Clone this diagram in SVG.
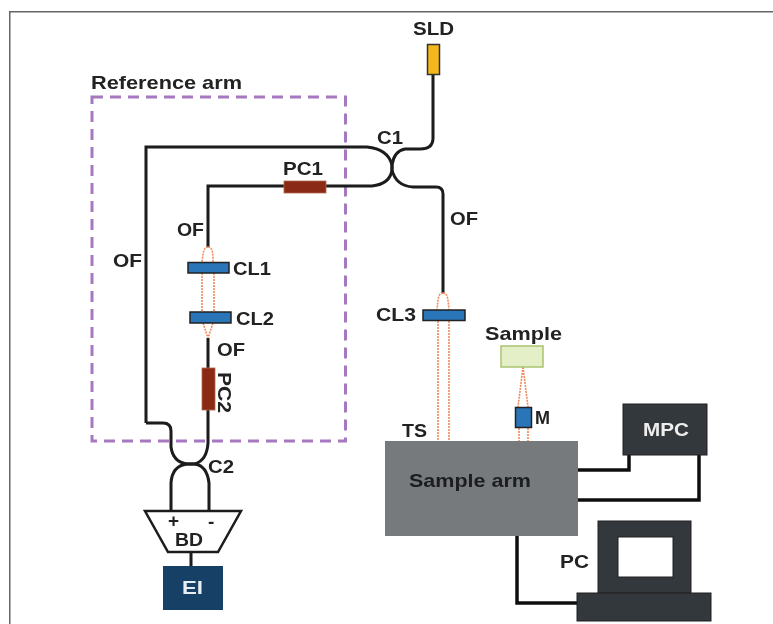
<svg xmlns="http://www.w3.org/2000/svg" width="773" height="624" viewBox="0 0 773 624">
<defs><filter id="soft" x="0" y="0" width="100%" height="100%" filterUnits="objectBoundingBox"><feGaussianBlur stdDeviation="0.45"/></filter></defs>
<style>
text{font-family:"Liberation Sans",Arial,sans-serif;font-weight:bold;font-size:19px;fill:#222}
.f{fill:none;stroke:#1c1c1c;stroke-width:3}
.c{fill:none;stroke:#111;stroke-width:3.500}
.b{fill:none;stroke:#f08a5d;stroke-width:1.600;stroke-dasharray:2 1}
.lens{fill:#2a74b8;stroke:#222;stroke-width:1.500}
.pc{fill:#8a2a14;stroke:#b06a50;stroke-width:.8}
.dk{fill:#33373a;stroke:#222;stroke-width:1}
</style>
<rect width="773" height="624" fill="#fff"/>
<g filter="url(#soft)">
<path d="M9 624V11H773" fill="none" stroke="#666" stroke-width="3"/>
<rect x="92" y="97" width="253.500" height="344" fill="none" stroke="#a678c0" stroke-width="3" stroke-dasharray="11 7"/>
<g id="connectors">
<path class="f" d="M433 75V138Q433 149 420 149H405Q394 151 392 165V170Q390 184 372 186H326"/>
<path class="f" d="M284 186H208V247"/>
<path class="f" d="M146 423V147H367Q388 149 392 165V170Q396 186 413 187H436Q443 187 443 194V293"/>
<path class="f" d="M208 338V368"/>
<path class="f" d="M146 423H163Q171 423 171 431V447Q173 462 187 464H195Q207 460 208 443V410"/>
<path class="f" d="M171 511V483Q172 466 187 464H195Q207 466 209 483V511"/>
<path class="f" d="M191 552V566"/>
<path class="c" d="M578 470H629V455"/>
<path class="c" d="M578 500H699V455"/>
<path class="c" d="M517 536V603H577"/>
<path class="b" d="M208 247C203 247 203 255 202 262M208 247C213 247 213 255 213 262M202 273V312M214 273V312M203 323L208 338M213 323L208 338"/>
<path class="b" d="M443 293C438 293 438 300 437 310M443 293C448 293 448 300 449 310M438 321V441M449 321V441"/>
<path class="b" d="M523 367L518 407M523 367L528 407M519 428V441M528 428V441"/>
</g>
<g id="SLD"><rect x="427.500" y="44.500" width="12" height="30" fill="#f5b81c" stroke="#333" stroke-width="1.500"/><text x="413" y="35" textLength="41" lengthAdjust="spacingAndGlyphs">SLD</text></g>
<g id="PC1"><rect class="pc" x="284" y="181" width="42" height="12"/><text x="283" y="175" textLength="40" lengthAdjust="spacingAndGlyphs">PC1</text></g>
<g id="PC2"><rect class="pc" x="202" y="368" width="13" height="42"/><text transform="translate(218 372) rotate(90)" textLength="41" lengthAdjust="spacingAndGlyphs">PC2</text></g>
<g id="CL1"><rect class="lens" x="188" y="262.500" width="41" height="10.500"/><text x="233" y="275" textLength="38" lengthAdjust="spacingAndGlyphs">CL1</text></g>
<g id="CL2"><rect class="lens" x="190" y="312" width="41" height="11"/><text x="236" y="325" textLength="38" lengthAdjust="spacingAndGlyphs">CL2</text></g>
<g id="CL3"><rect class="lens" x="423" y="310" width="42" height="10.500"/><text x="376" y="321" textLength="40" lengthAdjust="spacingAndGlyphs">CL3</text></g>
<g id="Sample"><rect x="501" y="346" width="42" height="21" fill="#e4efc8" stroke="#a9c56f" stroke-width="1.500"/><text x="485" y="340" textLength="77" lengthAdjust="spacingAndGlyphs">Sample</text></g>
<g id="M"><rect x="515.500" y="407.500" width="16" height="20" fill="#2a74b8" stroke="#222" stroke-width="1.500"/><text x="535" y="424" textLength="15" lengthAdjust="spacingAndGlyphs">M</text></g>
<g id="SampleArm"><rect x="385" y="441" width="193" height="95" fill="#777a7c"/><text x="409" y="487" textLength="122" lengthAdjust="spacingAndGlyphs" style="fill:#1c1f20">Sample arm</text></g>
<g id="MPC"><rect class="dk" x="623" y="404" width="84" height="51"/><text x="643" y="436" textLength="46" lengthAdjust="spacingAndGlyphs" style="fill:#eee">MPC</text></g>
<g id="PC"><rect class="dk" x="598" y="521" width="93" height="72"/><rect x="618" y="537" width="55" height="40" fill="#fff" stroke="#222"/><rect class="dk" x="577" y="593" width="134" height="28"/><text x="560" y="568" textLength="29" lengthAdjust="spacingAndGlyphs">PC</text></g>
<g id="BD"><path d="M145 511H241L218 552H168Z" fill="#fff" stroke="#1c1c1c" stroke-width="2.500"/><text x="168" y="527">+</text><text x="208" y="528">-</text><text x="175" y="546" textLength="28" lengthAdjust="spacingAndGlyphs">BD</text></g>
<g id="EI"><rect x="163" y="566" width="60" height="44" fill="#123f66"/><text x="182" y="594" textLength="21" lengthAdjust="spacingAndGlyphs" style="fill:#e8eef3">EI</text></g>
<g id="labels">
<text x="91" y="89" textLength="151" lengthAdjust="spacingAndGlyphs">Reference arm</text>
<text x="377" y="144" textLength="26" lengthAdjust="spacingAndGlyphs">C1</text>
<text x="450" y="225" textLength="28" lengthAdjust="spacingAndGlyphs">OF</text>
<text x="177" y="236" textLength="27" lengthAdjust="spacingAndGlyphs">OF</text>
<text x="113" y="267" textLength="29" lengthAdjust="spacingAndGlyphs">OF</text>
<text x="217" y="356" textLength="28" lengthAdjust="spacingAndGlyphs">OF</text>
<text x="208" y="473" textLength="26" lengthAdjust="spacingAndGlyphs">C2</text>
<text x="402" y="437" textLength="25" lengthAdjust="spacingAndGlyphs">TS</text>
</g>
</g>
</svg>
